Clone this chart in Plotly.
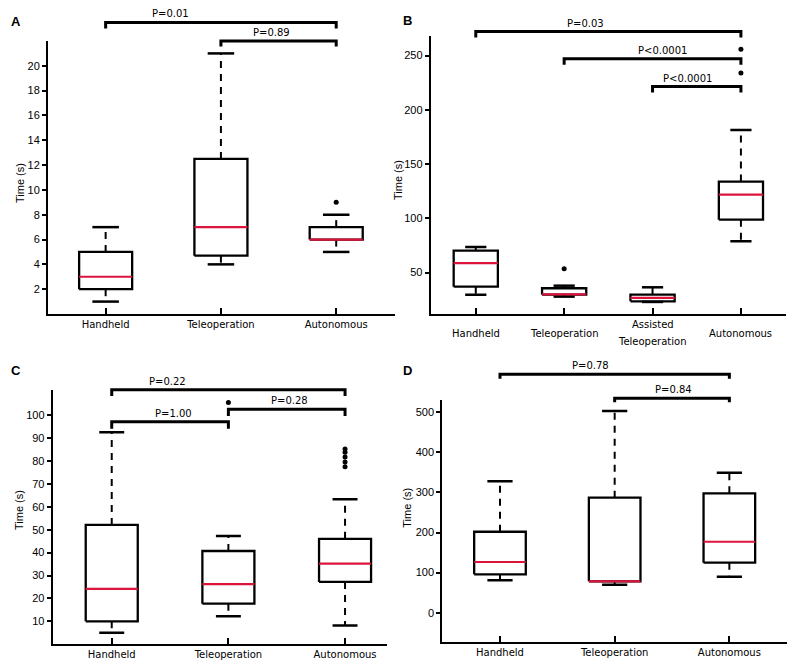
import plotly.graph_objects as go

# ---------------- data ----------------
# Panel A
a_cats = ["Handheld", "Teleoperation", "Autonomous"]
a_low = [1, 4, 5]
a_q1 = [2, 4.7, 6]
a_med = [3, 7, 6]
a_q3 = [5, 12.5, 7]
a_high = [7, 21, 8]
a_out = [[], [], [9]]
a_yticks = [2, 4, 6, 8, 10, 12, 14, 16, 18, 20]
a_pairs = [(1, 3), (2, 3)]
a_ptext = ["P=0.01", "P=0.89"]
a_pbar = [23.5, 22.0]
a_ptip = [23.0, 21.55]
a_ptx = [1.56, 2.44]

# Panel B
b_cats = ["Handheld", "Teleoperation", "Assisted<br>Teleoperation", "Autonomous"]
b_low = [29.7, 27.9, 23.0, 78.9]
b_q1 = [37.1, 29.7, 23.6, 98.8]
b_med = [58.7, 29.9, 26.7, 121.9]
b_q3 = [70.3, 35.6, 29.7, 133.9]
b_high = [73.7, 38.0, 36.5, 181.4]
b_out = [[], [53.7], [], [233.8, 255.9]]
b_yticks = [50, 100, 150, 200, 250]
b_pairs = [(1, 4), (2, 4), (3, 4)]
b_ptext = ["P=0.03", "P<0.0001", "P<0.0001"]
b_pbar = [272.1, 247.0, 221.4]
b_ptip = [266.6, 241.4, 215.9]
b_ptx = [2.24, 3.11, 3.40]

# Panel C
c_cats = ["Handheld", "Teleoperation", "Autonomous"]
c_low = [5.0, 12.2, 8.2]
c_q1 = [10.0, 17.7, 27.2]
c_med = [24.2, 26.2, 35.2]
c_q3 = [52.1, 40.7, 46.0]
c_high = [92.6, 47.3, 63.3]
c_out = [[], [105.5], [77.5, 79.6, 81.8, 83.8, 85.2]]
c_yticks = [10, 20, 30, 40, 50, 60, 70, 80, 90, 100]
c_pairs = [(1, 3), (1, 2), (2, 3)]
c_ptext = ["P=0.22", "P=1.00", "P=0.28"]
c_pbar = [111.1, 97.1, 102.6]
c_ptip = [108.4, 94.1, 99.7]
c_ptx = [1.48, 1.53, 2.52]

# Panel D
d_cats = ["Handheld", "Teleoperation", "Autonomous"]
d_low = [80.8, 69.9, 89.8]
d_q1 = [95.8, 78.3, 124.8]
d_med = [126.5, 78.3, 177.0]
d_q3 = [202.0, 287.0, 297.8]
d_high = [327.8, 503.0, 349.0]
d_out = [[], [], []]
d_yticks = [0, 100, 200, 300, 400, 500]
d_pairs = [(1, 3), (2, 3)]
d_ptext = ["P=0.78", "P=0.84"]
d_pbar = [594.8, 535.0]
d_ptip = [583.8, 525.0]
d_ptx = [1.79, 2.51]

# ---------------- layout geometry (window pixels) ----------------
OFF = 8                      # page body margin
W, H = 800 - OFF, 672 - OFF  # figure size so that it fills the window
panels = [
    dict(letter="A", cats=a_cats, low=a_low, q1=a_q1, med=a_med, q3=a_q3, high=a_high, out=a_out,
         yticks=a_yticks, pairs=a_pairs, ptext=a_ptext, pbar=a_pbar, ptip=a_ptip, ptx=a_ptx,
         xr=[0.5, 3.51], yr=[0, 22], px=[48, 395], py=[314, 41], btop=10,
         hw=0.23, cw=0.115, letter_xy=(16, 21), title_xy=(20, 183)),
    dict(letter="B", cats=b_cats, low=b_low, q1=b_q1, med=b_med, q3=b_q3, high=b_high, out=b_out,
         yticks=b_yticks, pairs=b_pairs, ptext=b_ptext, pbar=b_pbar, ptip=b_ptip, ptx=b_ptx,
         xr=[0.49, 4.51], yr=[11.9, 268], px=[430.7, 786], py=[314, 36], btop=12,
         hw=0.25, cw=0.12, letter_xy=(407, 20), title_xy=(398, 180)),
    dict(letter="C", cats=c_cats, low=c_low, q1=c_q1, med=c_med, q3=c_q3, high=c_high, out=c_out,
         yticks=c_yticks, pairs=c_pairs, ptext=c_ptext, pbar=c_pbar, ptip=c_ptip, ptx=c_ptx,
         xr=[0.494, 3.357], yr=[0.1, 111], px=[52.7, 386.7], py=[644, 390], btop=368,
         hw=0.223, cw=0.107, letter_xy=(16, 370), title_xy=(19, 510)),
    dict(letter="D", cats=d_cats, low=d_low, q1=d_q1, med=d_med, q3=d_q3, high=d_high, out=d_out,
         yticks=d_yticks, pairs=d_pairs, ptext=d_ptext, pbar=d_pbar, ptip=d_ptip, ptx=d_ptx,
         xr=[0.497, 3.5], yr=[-73.9, 530.7], px=[442.3, 786.7], py=[642.3, 400], btop=360,
         hw=0.225, cw=0.11, letter_xy=(407, 370), title_xy=(406.7, 508)),
]

RED = "#dc143c"
TICKFONT = dict(family="Liberation Sans, Arial, sans-serif", size=11, color="black")
CATFONT = dict(family="DejaVu Sans, sans-serif", size=10, color="black")
PFONT = dict(family="DejaVu Sans, sans-serif", size=10, color="black")

fig = go.Figure()
layout = dict(width=W, height=H, margin=dict(l=0, r=0, t=0, b=0), autosize=False,
              paper_bgcolor="white", plot_bgcolor="rgba(0,0,0,0)", showlegend=False)
annotations = []


def nm(base, n):
    return base if n == 1 else f"{base}{n}"


def fx(px):
    return (px - OFF) / W


def fy(py):
    return (H - (py - OFF)) / H


for i, p in enumerate(panels):
    n = i + 1
    nb = i + 5
    xref, yref, ybref = nm("x", n), nm("y", n), nm("y", nb)
    cats = p["cats"]
    pos = list(range(1, len(cats) + 1))
    hw, cw = p["hw"], p["cw"]

    # axes
    bot, top = p["py"]
    scale = (bot - top) / (p["yr"][1] - p["yr"][0])
    yb_top = p["yr"][0] + (bot - p["btop"]) / scale
    layout[nm("xaxis", n)] = dict(
        domain=[fx(p["px"][0]), fx(p["px"][1])], range=p["xr"], anchor=yref,
        showline=True, linewidth=2, linecolor="black", showgrid=False, zeroline=False,
        tickmode="array", tickvals=pos,
        ticktext=cats if p["letter"] != "B" else [""] * len(cats),
        showticklabels=p["letter"] != "B",
        ticks="inside", ticklen=6, tickwidth=2, tickcolor="black", tickfont=CATFONT)
    layout[nm("yaxis", n)] = dict(
        domain=[fy(bot), fy(top)], range=p["yr"], anchor=xref,
        showline=True, linewidth=2, linecolor="black", showgrid=False, zeroline=False,
        tickmode="array", tickvals=p["yticks"], ticks="outside", ticklen=4, tickwidth=1.5,
        tickcolor="black", tickfont=TICKFONT)
    layout[nm("yaxis", nb)] = dict(
        domain=[fy(bot), fy(p["btop"])], range=[p["yr"][0], yb_top], anchor=xref,
        visible=False, showgrid=False, zeroline=False)

    # boxes
    bx, by, wx, wy, cx, cy, mx, my = [], [], [], [], [], [], [], []
    for c, lo, q1, md, q3, hi in zip(pos, p["low"], p["q1"], p["med"], p["q3"], p["high"]):
        bx += [c - hw, c + hw, c + hw, c - hw, c - hw, None]
        by += [q1, q1, q3, q3, q1, None]
        wx += [c, c, None, c, c, None]
        wy += [q3, hi, None, q1, lo, None]
        cx += [c - cw, c + cw, None, c - cw, c + cw, None]
        cy += [hi, hi, None, lo, lo, None]
        mx += [c - hw, c + hw, None]
        my += [md, md, None]
    common = dict(xaxis=xref, yaxis=yref, mode="lines", hoverinfo="skip")
    fig.add_trace(go.Scatter(x=wx, y=wy, line=dict(color="black", width=2, dash="7px,6px"), **common))
    fig.add_trace(go.Scatter(x=cx, y=cy, line=dict(color="black", width=2.5), **common))
    fig.add_trace(go.Scatter(x=bx, y=by, line=dict(color="black", width=2.3), **common))
    fig.add_trace(go.Scatter(x=mx, y=my, line=dict(color=RED, width=2.2), **common))

    ox, oy = [], []
    for c, outs in zip(pos, p["out"]):
        for v in outs:
            ox.append(c)
            oy.append(v)
    if ox:
        fig.add_trace(go.Scatter(x=ox, y=oy, mode="markers", xaxis=xref, yaxis=yref,
                                 marker=dict(color="black", size=5), cliponaxis=False,
                                 hoverinfo="skip"))

    # significance brackets (drawn on a taller, invisible y axis with the same scale)
    kx, ky = [], []
    for (a, b), bar, tip, tx, txt in zip(p["pairs"], p["pbar"], p["ptip"], p["ptx"], p["ptext"]):
        kx += [a, a, b, b, None]
        ky += [tip, bar, bar, tip, None]
        annotations.append(dict(x=tx, y=bar, xref=xref, yref=ybref, text=txt, showarrow=False,
                                yanchor="bottom", yshift=1, font=PFONT))
    fig.add_trace(go.Scatter(x=kx, y=ky, xaxis=xref, yaxis=ybref, mode="lines",
                             line=dict(color="black", width=3), hoverinfo="skip"))

    # panel letter and y title
    lx, ly = p["letter_xy"]
    annotations.append(dict(x=fx(lx), y=fy(ly), xref="paper", yref="paper", text=p["letter"],
                            showarrow=False, xanchor="center", yanchor="middle",
                            font=dict(family="Liberation Sans, Arial, sans-serif", size=13,
                                      color="black", weight="bold")))
    tx_, ty_ = p["title_xy"]
    annotations.append(dict(x=fx(tx_), y=fy(ty_), xref="paper", yref="paper", text="Time (s)",
                            textangle=-90, showarrow=False, xanchor="center", yanchor="middle",
                            font=dict(family="Liberation Sans, Arial, sans-serif", size=11,
                                      color="black")))

    # panel B category labels (multi-line, vertically centred)
    if p["letter"] == "B":
        for c, lab in zip(pos, cats):
            lines = lab.split("<br>")
            for k, line in enumerate(lines):
                yy = 333 + (k - (len(lines) - 1) / 2) * 16.7
                annotations.append(dict(x=c, y=fy(yy), xref=xref, yref="paper", text=line,
                                        showarrow=False, xanchor="center", yanchor="middle",
                                        font=CATFONT))

layout["annotations"] = annotations
fig.update_layout(**layout)
fig.write_html("out.html")
